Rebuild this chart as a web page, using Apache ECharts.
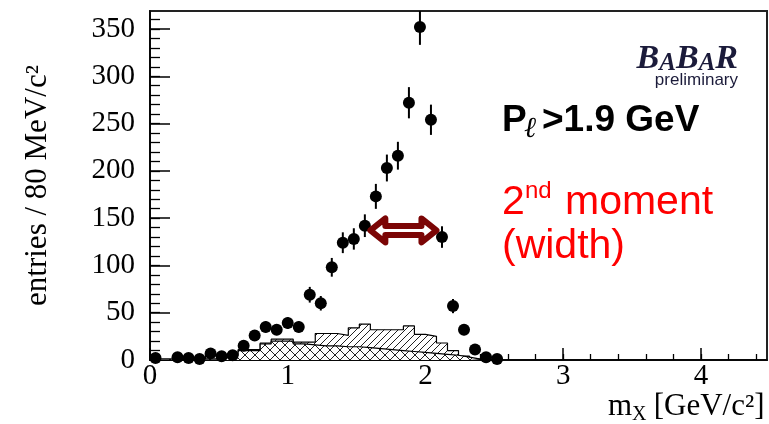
<!DOCTYPE html>
<html><head><meta charset="utf-8">
<script src="https://cdn.jsdelivr.net/npm/echarts@6/dist/echarts.min.js"></script>
<style>html,body{margin:0;padding:0;background:#fff}#c{width:769px;height:424px}</style>
</head><body><div id="c"></div>
<script>
// ---- data (bin centres in GeV/c^2, 80 MeV bins) ----
const mxBins = [0.04,0.12,0.20,0.28,0.36,0.44,0.52,0.60,0.68,0.76,0.84,0.92,1.00,1.08,1.16,1.24,1.32,1.40,1.48,1.56,1.64,1.72,1.80,1.88,1.96,2.04,2.12,2.20,2.28,2.36,2.44,2.52];
const dataEntries = [2,null,3,2,1,7,4,5,15,26,35,32,39,35,69,60,98,124,128,142,173,203,216,272,352,254,130,57,32,11,3,1];
const dataErrors  = [1.4,null,1.7,1.4,1,2.6,2,2.2,3.9,5.1,5.9,5.7,6.2,5.9,8.3,7.7,9.9,11,11.3,12,13.2,14.2,14.7,16.5,18.8,16,11.4,7.5,5.7,3.3,1.7,1];
// background histograms (first 30 bins)
const bkgTotal = [1,1,1,1,1,1,2,6,11,11,18,22,22,19,19,28,28,26,34,38,32,32,32,36,27,25,18,10,4,1];
const bkgLower = [1,1,1,1,1,1,2,5,10,10,17,20,20,17,16,15,15,14,14,13,12,11,10,9,8,7,6,5,3,1];
const binWidth = 0.08;
// tick values
const xTicks = [0,1,2,3,4];
const yTicks = [0,50,100,150,200,250,300,350];
const xRange = [0, 4.48];
const yRange = [0, 369];
// annotation: second-moment arrow [x1, x2, y]
const widthArrow = [1.60, 2.08, 137];

const xMinor = []; for (let v = 0; v <= 4.41; v += 0.2) xMinor.push(+v.toFixed(2));
const yMinor = []; for (let v = 0; v <= 360; v += 10) yMinor.push(v);

function hatch(size, dirs, col) {
  const c = document.createElement('canvas'); c.width = c.height = size;
  const g = c.getContext('2d');
  g.fillStyle = '#fff'; g.fillRect(0, 0, size, size);
  g.strokeStyle = col; g.lineWidth = 1;
  dirs.forEach(d => {
    g.beginPath();
    if (d === '/') {
      g.moveTo(0, size); g.lineTo(size, 0);
      g.moveTo(-2, 2); g.lineTo(2, -2);
      g.moveTo(size - 2, size + 2); g.lineTo(size + 2, size - 2);
    } else {
      g.moveTo(0, 0); g.lineTo(size, size);
      g.moveTo(-2, size - 2); g.lineTo(2, size + 2);
      g.moveTo(size - 2, -2); g.lineTo(size + 2, 2);
    }
    g.stroke();
  });
  return c;
}

function stepData(vals) {
  const pts = [[mxBins[0] - binWidth / 2, 0]];
  vals.forEach((v, i) => pts.push([mxBins[i] - binWidth / 2, v]));
  pts.push([mxBins[vals.length - 1] + binWidth / 2, 0]);
  return pts;
}

const points = [], errs = [];
mxBins.forEach((x, i) => {
  if (dataEntries[i] == null) return;
  points.push([x, dataEntries[i]]);
  errs.push([x, dataEntries[i] - dataErrors[i], dataEntries[i] + dataErrors[i]]);
});

const serif = '"Liberation Serif","Times New Roman",serif';
const sans = '"Liberation Sans",Arial,sans-serif';
const chart = echarts.init(document.getElementById('c'), null, {renderer: 'canvas'});

chart.setOption({
  animation: false,
  backgroundColor: '#fff',
  grid: {left: 150, right: 2, top: 11, bottom: 64, show: true, borderColor: '#222', borderWidth: 2, backgroundColor: 'transparent'},
  xAxis: [
    {type: 'value', min: xRange[0], max: xRange[1], interval: 1, position: 'bottom',
     splitLine: {show: false},
     axisLine: {lineStyle: {color: '#000', width: 1.5}},
     axisTick: {inside: true, length: 12, customValues: xTicks, lineStyle: {color: '#000', width: 1.5}},
     axisLabel: {customValues: xTicks, margin: 2, color: '#000', fontFamily: serif, fontSize: 29}},
    {type: 'value', min: xRange[0], max: xRange[1], position: 'bottom',
     splitLine: {show: false}, axisLine: {show: false},
     axisTick: {inside: true, length: 6, customValues: xMinor, lineStyle: {color: '#000', width: 1.3}},
     axisLabel: {show: false}}
  ],
  yAxis: [
    {type: 'value', min: yRange[0], max: yRange[1], interval: 50, position: 'left',
     splitLine: {show: false},
     axisLine: {show: true, lineStyle: {color: '#000', width: 1.5}},
     axisTick: {inside: true, length: 20, customValues: yTicks, lineStyle: {color: '#000', width: 1.5}},
     axisLabel: {customValues: yTicks, margin: 15, color: '#000', fontFamily: serif, fontSize: 29},
     name: 'entries / 80 MeV/c²', nameLocation: 'middle', nameGap: 97,
     nameTextStyle: {fontFamily: serif, fontSize: 31, color: '#000'}},
    {type: 'value', min: yRange[0], max: yRange[1], position: 'left', offset: 0,
     splitLine: {show: false}, axisLine: {show: false},
     axisTick: {inside: true, length: 10, customValues: yMinor, lineStyle: {color: '#000', width: 1.3}},
     axisLabel: {show: false}}
  ],
  series: [
    {type: 'line', name: 'bkgTotal', data: stepData(bkgTotal), step: 'end', symbol: 'none', z: 1,
     lineStyle: {color: '#000', width: 1.2},
     areaStyle: {color: {image: hatch(7, ['/'], '#222'), repeat: 'repeat'}, opacity: 1}},
    {type: 'line', name: 'bkgLower', data: stepData(bkgLower), step: 'end', symbol: 'none', z: 2,
     lineStyle: {color: '#000', width: 1.2},
     areaStyle: {color: {image: hatch(10, ['/', '\\'], '#222'), repeat: 'repeat'}, opacity: 1}},
    {type: 'custom', name: 'errors', data: errs, z: 3, encode: {x: 0, y: [1, 2]},
     renderItem: (params, api) => {
       const lo = api.coord([api.value(0), api.value(1)]);
       const hi = api.coord([api.value(0), Math.min(api.value(2), yRange[1])]);
       return {type: 'line', shape: {x1: lo[0], y1: lo[1], x2: hi[0], y2: hi[1]},
               style: {stroke: '#000', lineWidth: 2}};
     }},
    {type: 'scatter', name: 'data', data: points, z: 4, symbol: 'circle', symbolSize: 12,
     itemStyle: {color: '#000', opacity: 1}},
    {type: 'custom', name: 'arrow', data: [widthArrow], z: 5, encode: {x: [0, 1], y: 2},
     renderItem: (params, api) => {
       const a = api.coord([api.value(0), api.value(2)]);
       const b = api.coord([api.value(1), api.value(2)]);
       const y = a[1], h = 15, s = 4.5, H = 12;
       const pts = [[a[0], y], [a[0] + h, y - H], [a[0] + h, y - s], [b[0] - h, y - s], [b[0] - h, y - H],
                    [b[0], y], [b[0] - h, y + H], [b[0] - h, y + s], [a[0] + h, y + s], [a[0] + h, y + H]];
       return {type: 'polygon', shape: {points: pts},
               style: {fill: '#fff', stroke: '#7b0505', lineWidth: 6, lineJoin: 'round'}};
     }}
  ],
  graphic: [
    {type: 'text', right: 31, top: 42, z: 10, style: {
      text: '{b|B}{s|A}{b|B}{s|A}{b|R}',
      rich: {
        b: {fontSize: 34, fontFamily: serif, fontStyle: 'italic', fontWeight: 'bold', fill: '#1b1b3a', verticalAlign: 'bottom', lineHeight: 34},
        s: {fontSize: 25, fontFamily: serif, fontStyle: 'italic', fontWeight: 'bold', fill: '#1b1b3a', verticalAlign: 'bottom', lineHeight: 30}
      }}},
    {type: 'text', right: 31, top: 72, z: 10, style: {text: 'preliminary', font: '17px ' + sans, fill: '#1b1b3a'}},
    {type: 'text', left: 502, top: 102, z: 10, style: {text: 'P', font: 'bold 37px ' + sans, fill: '#000'}},
    {type: 'text', left: 524, top: 115, z: 10, style: {text: 'ℓ', font: 'italic 29px "DejaVu Serif",serif', fill: '#000'}},
    {type: 'text', left: 542, top: 102, z: 10, style: {text: '>1.9 GeV', font: 'bold 37px ' + sans, fill: '#000'}},
    {type: 'text', left: 502, top: 182, z: 10, style: {text: '2', font: '41px ' + sans, fill: '#ff0000'}},
    {type: 'text', left: 525, top: 179, z: 10, style: {text: 'nd', font: '24px ' + sans, fill: '#ff0000'}},
    {type: 'text', left: 565, top: 182, z: 10, style: {text: 'moment', font: '41px ' + sans, fill: '#ff0000'}},
    {type: 'text', left: 502, top: 226, z: 10, style: {text: '(width)', font: '41px ' + sans, fill: '#ff0000'}},
    {type: 'text', left: 608, top: 391, z: 10, style: {text: 'm', font: '31px ' + serif, fill: '#000'}},
    {type: 'text', left: 632, top: 405, z: 10, style: {text: 'X', font: '20px ' + serif, fill: '#000'}},
    {type: 'text', left: 646, top: 391, z: 10, style: {text: ' [GeV/c²]', font: '31px ' + serif, fill: '#000'}}
  ]
});
</script>
</body></html>
